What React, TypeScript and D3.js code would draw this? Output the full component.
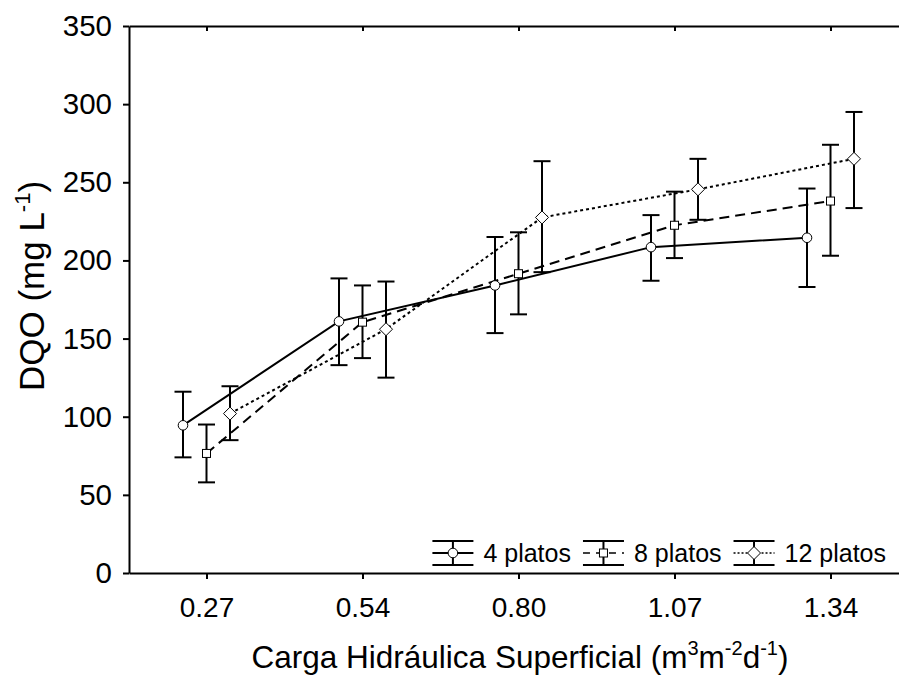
import React, { useRef, useEffect } from 'react';
import * as d3 from 'd3';

// Carga hidráulica superficial (categorias do eixo x)
const cargas = ['0.27', '0.54', '0.80', '1.07', '1.34'];
const seriesNames = ['4 platos', '8 platos', '12 platos'];

// DQO média e limites das barras de erro (mg/L)
const mean4 = [94.5, 161, 184, 208.5, 214.5];
const lo4 = [74, 133, 153.5, 187, 183];
const hi4 = [116, 188.5, 215, 229, 246];

const mean8 = [76.5, 160.5, 191.5, 222.5, 238];
const lo8 = [58, 137.5, 165.5, 201.5, 203];
const hi8 = [95, 184, 218, 244, 274];

const mean12 = [102, 156, 227.5, 245.5, 265];
const lo12 = [85, 125, 192.5, 226, 233.5];
const hi12 = [119.5, 186.5, 263.5, 265, 295];

const yTicks = [0, 50, 100, 150, 200, 250, 300, 350];

const FONT = '"Liberation Sans", Arial, sans-serif';

const App = () => {
    const svgRef = useRef<SVGSVGElement | null>(null);

    useEffect(() => {
        document.body.style.margin = '0';
        if (!svgRef.current) return;
        const svg = d3.select(svgRef.current);
        svg.selectAll('*').remove();

        const width = 899;
        const height = 679;
        const margin = { top: 26, left: 129, bottom: 106 };
        const plotBottom = height - margin.bottom;

        const x = d3.scaleBand().domain(cargas).range([margin.left, 909]).padding(0);
        const offset = d3.scalePoint().domain(seriesNames).range([-24, 23]);
        const y = d3.scaleLinear().domain([0, 350]).range([plotBottom, margin.top]);

        const cx = (c: string) => (x(c) as number) + x.bandwidth() / 2;

        const series = [
            { name: '4 platos', mean: mean4, lo: lo4, hi: hi4, dash: null, marker: 'circle' },
            { name: '8 platos', mean: mean8, lo: lo8, hi: hi8, dash: '10,6', marker: 'square' },
            { name: '12 platos', mean: mean12, lo: lo12, hi: hi12, dash: '3,3', marker: 'diamond' },
        ];

        const drawMarker = (g: any, kind: string, px: number, py: number) => {
            if (kind === 'circle') {
                g.append('circle').attr('cx', px).attr('cy', py).attr('r', 4.8)
                    .attr('fill', '#fff').attr('stroke', '#000').attr('stroke-width', 1);
            } else if (kind === 'square') {
                g.append('rect').attr('x', px - 4).attr('y', py - 4).attr('width', 8).attr('height', 8)
                    .attr('fill', '#fff').attr('stroke', '#000').attr('stroke-width', 1);
            } else {
                g.append('path').attr('d', `M${px},${py - 6.5}L${px + 6.5},${py}L${px},${py + 6.5}L${px - 6.5},${py}Z`)
                    .attr('fill', '#fff').attr('stroke', '#000').attr('stroke-width', 1);
            }
        };

        // Axes
        const yAxis = svg.append('g')
            .attr('transform', `translate(${margin.left},0)`)
            .call(d3.axisLeft(y).tickValues(yTicks).tickSize(6).tickSizeOuter(0).tickPadding(11));
        yAxis.select('.domain').attr('stroke-width', 2);
        yAxis.selectAll('line').attr('stroke-width', 2);
        yAxis.selectAll('text').attr('font-size', 29.5).attr('font-family', FONT).attr('fill', '#000');

        const xAxis = svg.append('g')
            .attr('transform', `translate(0,${plotBottom})`)
            .call(d3.axisBottom(x).tickSize(6).tickSizeOuter(0).tickPadding(18));
        xAxis.select('.domain').attr('stroke-width', 2);
        xAxis.selectAll('line').attr('stroke-width', 2);
        xAxis.selectAll('text').attr('font-size', 28).attr('font-family', FONT).attr('fill', '#000');

        const topAxis = svg.append('g')
            .attr('transform', `translate(0,${margin.top})`)
            .call(d3.axisTop(x).tickSize(-5).tickSizeOuter(0).tickFormat(() => ''));
        topAxis.select('.domain').attr('stroke-width', 2);
        topAxis.selectAll('line').attr('stroke-width', 2);

        // Lines
        series.forEach(s => {
            const line = d3.line<number>()
                .x((_, i) => cx(cargas[i]) + (offset(s.name) as number))
                .y(d => y(d));
            const p = svg.append('path')
                .datum(s.mean)
                .attr('d', line)
                .attr('fill', 'none')
                .attr('stroke', '#000')
                .attr('stroke-width', 2);
            if (s.dash) p.attr('stroke-dasharray', s.dash);
        });

        // Error bars + markers
        series.forEach(s => {
            const g = svg.append('g');
            s.mean.forEach((m, i) => {
                const px = cx(cargas[i]) + (offset(s.name) as number);
                g.append('line').attr('x1', px).attr('x2', px)
                    .attr('y1', y(s.lo[i])).attr('y2', y(s.hi[i]))
                    .attr('stroke', '#000').attr('stroke-width', 2);
                [s.lo[i], s.hi[i]].forEach(v => {
                    g.append('line').attr('x1', px - 8.5).attr('x2', px + 8.5)
                        .attr('y1', y(v)).attr('y2', y(v))
                        .attr('stroke', '#000').attr('stroke-width', 2);
                });
                drawMarker(g, s.marker, px, y(m));
            });
        });

        // Legend (right aligned at bottom of plot)
        const legend = svg.append('g');
        const symW = 41;
        const ly = 553;
        const items: any[] = [];
        series.forEach(s => {
            const it = legend.append('g');
            it.append('line').attr('x1', 0).attr('x2', symW).attr('y1', ly - 12).attr('y2', ly - 12)
                .attr('stroke', '#000').attr('stroke-width', 2);
            it.append('line').attr('x1', 0).attr('x2', symW).attr('y1', ly + 12).attr('y2', ly + 12)
                .attr('stroke', '#000').attr('stroke-width', 2);
            it.append('line').attr('x1', symW / 2).attr('x2', symW / 2).attr('y1', ly - 12).attr('y2', ly + 12)
                .attr('stroke', '#000').attr('stroke-width', 2);
            const mid = it.append('line').attr('x1', 0).attr('x2', symW).attr('y1', ly).attr('y2', ly)
                .attr('stroke', '#000').attr('stroke-width', s.dash ? 1.5 : 2);
            if (s.marker === 'square') mid.attr('stroke-dasharray', '7,6');
            if (s.marker === 'diamond') mid.attr('stroke-dasharray', '2,2');
            drawMarker(it, s.marker, symW / 2, ly);
            const t = it.append('text').attr('x', symW + 10).attr('y', ly + 9)
                .attr('font-size', 25).attr('font-family', FONT).text(s.name);
            const tw = (t.node() as SVGTextElement).getComputedTextLength();
            items.push({ it, w: symW + 10 + tw });
        });
        let right = 886;
        for (let k = items.length - 1; k >= 0; k--) {
            const left = right - items[k].w;
            items[k].it.attr('transform', `translate(${left},0)`);
            right = left - 12;
        }

        // Axis titles
        const xt = svg.append('text')
            .attr('x', 520).attr('y', 668)
            .attr('text-anchor', 'middle')
            .attr('font-size', 31.5).attr('font-family', FONT);
        xt.append('tspan').text('Carga Hidráulica Superficial (m');
        xt.append('tspan').attr('dy', -13).attr('font-size', 20).text('3');
        xt.append('tspan').attr('dy', 13).text('m');
        xt.append('tspan').attr('dy', -13).attr('font-size', 20).text('-2');
        xt.append('tspan').attr('dy', 13).text('d');
        xt.append('tspan').attr('dy', -13).attr('font-size', 20).text('-1');
        xt.append('tspan').attr('dy', 13).text(')');

        const yt = svg.append('text')
            .attr('transform', `translate(44,286) rotate(-90)`)
            .attr('text-anchor', 'middle')
            .attr('font-size', 35).attr('font-family', FONT);
        yt.append('tspan').text('DQO (mg L');
        yt.append('tspan').attr('dy', -14).attr('font-size', 22).text('-1');
        yt.append('tspan').attr('dy', 14).text(')');

        svg.attr('width', width).attr('height', height);
    }, []);

    return (
        <svg ref={svgRef} width={899} height={679} style={{ display: 'block', background: '#fff' }}></svg>
    );
};

export default App;
